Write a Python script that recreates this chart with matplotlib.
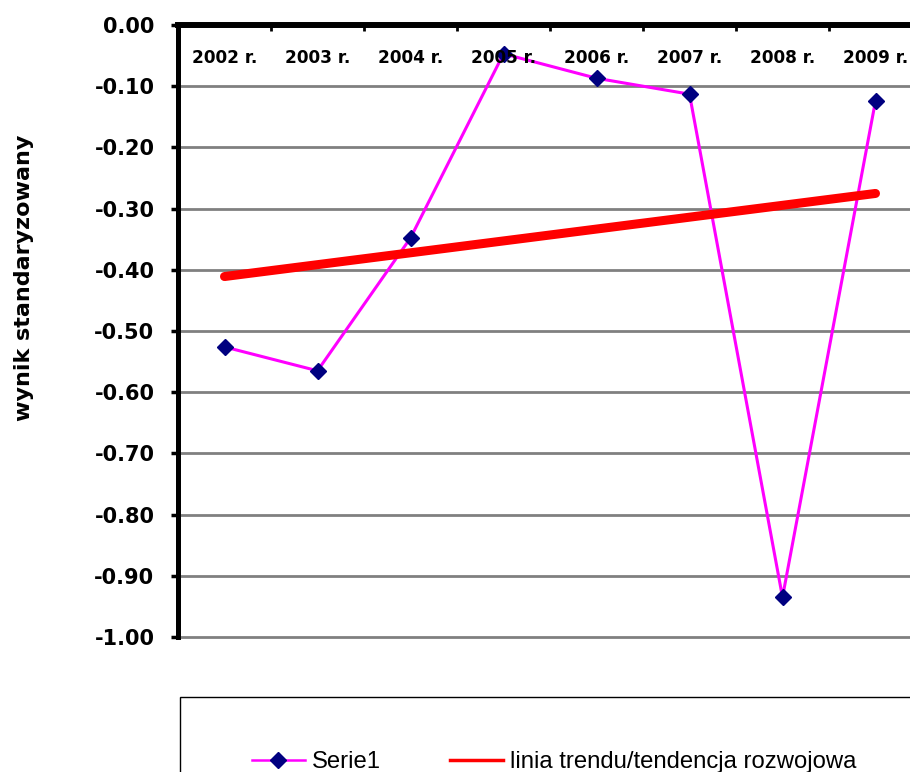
import numpy as np
import matplotlib.pyplot as plt
from matplotlib.patches import Rectangle
from matplotlib.lines import Line2D
from matplotlib.transforms import blended_transform_factory

plt.rcParams['axes.unicode_minus'] = False

# data
years = ['2002 r.', '2003 r.', '2004 r.', '2005 r.', '2006 r.', '2007 r.', '2008 r.', '2009 r.']
scores = [-0.526, -0.565, -0.348, -0.047, -0.087, -0.113, -0.935, -0.124]
yticks = [0.0, -0.1, -0.2, -0.3, -0.4, -0.5, -0.6, -0.7, -0.8, -0.9, -1.0]
legend_labels = ['Serie1', 'linia trendu/tendencja rozwojowa']

x = np.arange(len(years))
# linear trend line (least squares, like Excel)
slope, icpt = np.polyfit(x, scores, 1)
trend = slope * x + icpt

W, H = 910, 772
fig = plt.figure(figsize=(W / 100, H / 100), dpi=100)
ax = fig.add_axes([178 / W, 1 - 637 / H, 744 / W, 612 / H])

ax.set_xlim(-0.5, len(years) - 0.5)
ax.set_ylim(-1.0, 0.0)

ax.plot(x, scores, color='#FF00FF', lw=2.2, marker='D', ms=8.5,
        mfc='#000080', mec='#000080', zorder=3)
ax.plot(x, trend, color='#FF0000', lw=6.5, solid_capstyle='round', zorder=4)

# grid and spines
ax.set_yticks(yticks)
ax.set_yticklabels([f'{v:.2f}' for v in yticks])
ax.yaxis.grid(True, color='#808080', lw=2)
for gl in ax.get_ygridlines():
    gl.set_clip_on(False)
ax.set_axisbelow(True)
for s in ('right', 'bottom'):
    ax.spines[s].set_visible(False)
ax.spines['top'].set_linewidth(4.3)
ax.spines['left'].set_linewidth(3.6)

ax.xaxis.tick_top()
ax.set_xticks(x[:-1] + 0.5)
ax.set_xticklabels([])
ax.tick_params(axis='x', direction='in', length=4, width=2, top=True, bottom=False)
ax.tick_params(axis='y', direction='out', length=5, width=2.5, pad=12, labelsize=15)
for t in ax.get_yticklabels():
    t.set_fontweight('bold')

# category labels sit inside the plot under the top axis
tr = blended_transform_factory(ax.transData, ax.transAxes)
for i, lab in enumerate(years):
    ax.text(i, 0.946, lab, transform=tr, ha='center', va='center',
            fontsize=12.2, fontweight='bold')

fig.text(24 / W, 1 - 278 / H, 'wynik standaryzowany', rotation=90,
         ha='center', va='center', fontsize=16, fontweight='bold')

# legend box, cut off by the figure edge
fig.patches.append(Rectangle((180 / W, -0.2), 1.0, 0.2 + (1 - 697 / H),
                             transform=fig.transFigure, fill=False,
                             edgecolor='black', lw=1))
handles = [Line2D([], [], color='#FF00FF', lw=1.8, marker='D', ms=8.5,
                  mfc='#000080', mec='#000080'),
           Line2D([], [], color='#FF0000', lw=2.5)]
fig.legend(handles, legend_labels, loc='center left',
           bbox_to_anchor=(252 / W, 1 - 762 / H), ncol=2, frameon=False,
           handlelength=2.2, handletextpad=0.3, columnspacing=2.9,
           borderpad=0, borderaxespad=0,
           prop={'family': 'Liberation Sans', 'size': 17.2})

fig.savefig('out.png', dpi=100)
